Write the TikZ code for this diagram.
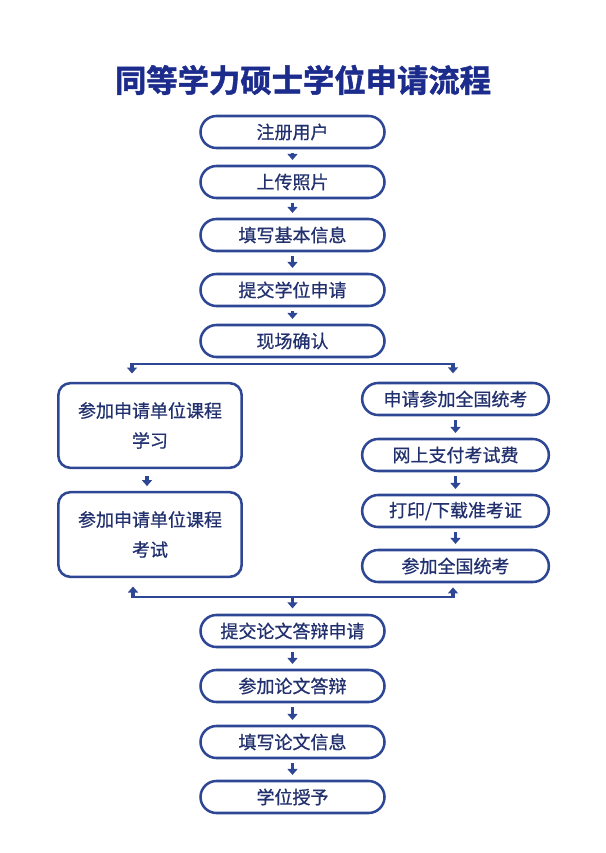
\documentclass[tikz,border=0pt]{standalone}
\usepackage{fontspec}
\setmainfont{Noto Sans CJK SC}
\newfontfamily\boxfont[FakeBold=0.8]{Noto Sans CJK SC}
\newfontfamily\headfont[FakeBold=1.5]{Noto Sans CJK SC Bold}
\usepackage{xcolor}
\usepackage{tikz}
\usetikzlibrary{arrows.meta,positioning,calc}
\definecolor{navy}{HTML}{2E4795}
\definecolor{inknavy}{HTML}{22316E}
\definecolor{titleblue}{HTML}{1C2C8C}
\tikzset{
  stepbox/.style={rectangle, rounded corners=12pt, draw=navy, line width=1.9pt, align=center, minimum height=24pt, minimum width=138pt, text=inknavy, font=\boxfont\fontsize{13.5pt}{16pt}\selectfont, inner sep=0pt},
  bigbox/.style={rectangle, rounded corners=9pt, draw=navy, line width=1.9pt, align=center, minimum height=63.5pt, minimum width=137.5pt, text=inknavy, font=\boxfont\fontsize{13.5pt}{22.5pt}\selectfont, inner sep=0pt},
  link/.style={draw=navy, line width=1.6pt},
  arrow/.style={-{Triangle[width=7.5pt,length=4.5pt]}, draw=navy, fill=navy, line width=2.5pt},
  title/.style={font=\headfont\fontsize{23.5pt}{26pt}\selectfont, text=titleblue}
}
\begin{document}
\begin{tikzpicture}[x=0.75pt, y=-0.75pt]
  \useasboundingbox (0,0) rectangle (606,853);

  \node[title] (title) at (303,80) {同等学力硕士学位申请流程};

  % main column
  \node[stepbox] (register) at (292.5,132) {注册用户};
  \node[stepbox] (photo) at (292.5,182) {上传照片};
  \node[stepbox] (info) at (292.5,235) {填写基本信息};
  \node[stepbox] (apply) at (292.5,290) {提交学位申请};
  \node[stepbox] (confirm) at (292.5,341) {现场确认};

  % left branch
  \node[bigbox] (study) at (150,425.5) {参加申请单位课程\\学习};
  \node[bigbox] (courseexam) at (150,534.5) {参加申请单位课程\\考试};

  % right branch
  \node[stepbox, minimum width=140pt] (national) at (455.5,399) {申请参加全国统考};
  \node[stepbox, minimum width=140pt] (fee) at (455.5,455) {网上支付考试费};
  \node[stepbox, minimum width=140pt] (ticket) at (455.5,511) {打印/下载准考证};
  \node[stepbox, minimum width=140pt] (natexam) at (455.5,566) {参加全国统考};

  % after merge
  \node[stepbox] (defapply) at (292.5,631) {提交论文答辩申请};
  \node[stepbox] (defense) at (292.5,686) {参加论文答辩};
  \node[stepbox] (thesis) at (292.5,742) {填写论文信息};
  \node[stepbox] (degree) at (292.5,797) {学位授予};

  \coordinate (splitL) at (132,364);
  \coordinate (splitR) at (453,364);
  \coordinate (joinL) at (133,597);
  \coordinate (joinR) at (453,597);
  \coordinate (join) at (292.5,597);

  \draw[arrow, shorten <=3pt, shorten >=3.6pt] (register) -- (photo);
  \draw[arrow, shorten <=3pt, shorten >=3.6pt] (photo) -- (info);
  \draw[arrow, shorten <=3pt, shorten >=3.6pt] (info) -- (apply);
  \draw[arrow, shorten <=3pt, shorten >=3.6pt] (apply) -- (confirm);

  \draw[link] (splitL) -- (splitR);
  \draw[arrow, shorten <=-0.6pt, shorten >=6.3pt] (splitL) -- (splitL |- study.north);
  \draw[arrow, shorten <=-0.6pt, shorten >=6.3pt] (splitR) -- (splitR |- national.north);

  \draw[arrow, shorten <=5pt, shorten >=3.6pt] (study.south -| 147,0) -- (courseexam.north -| 147,0);
  \draw[arrow, shorten <=3pt, shorten >=3.6pt] (national) -- (fee);
  \draw[arrow, shorten <=3pt, shorten >=3.6pt] (fee) -- (ticket);
  \draw[arrow, shorten <=3pt, shorten >=3.6pt] (ticket) -- (natexam);

  \draw[link] (joinL) -- (joinR);
  \draw[arrow, shorten <=-0.6pt, shorten >=6.3pt] (joinL) -- (joinL |- courseexam.south);
  \draw[arrow, shorten <=-0.6pt, shorten >=3.1pt] (joinR) -- (joinR |- natexam.south);
  \draw[arrow, shorten <=0pt, shorten >=4pt] (join) -- (defapply);

  \draw[arrow, shorten <=3pt, shorten >=3.6pt] (defapply) -- (defense);
  \draw[arrow, shorten <=3pt, shorten >=3.6pt] (defense) -- (thesis);
  \draw[arrow, shorten <=3pt, shorten >=3.6pt] (thesis) -- (degree);
\end{tikzpicture}
\end{document}
